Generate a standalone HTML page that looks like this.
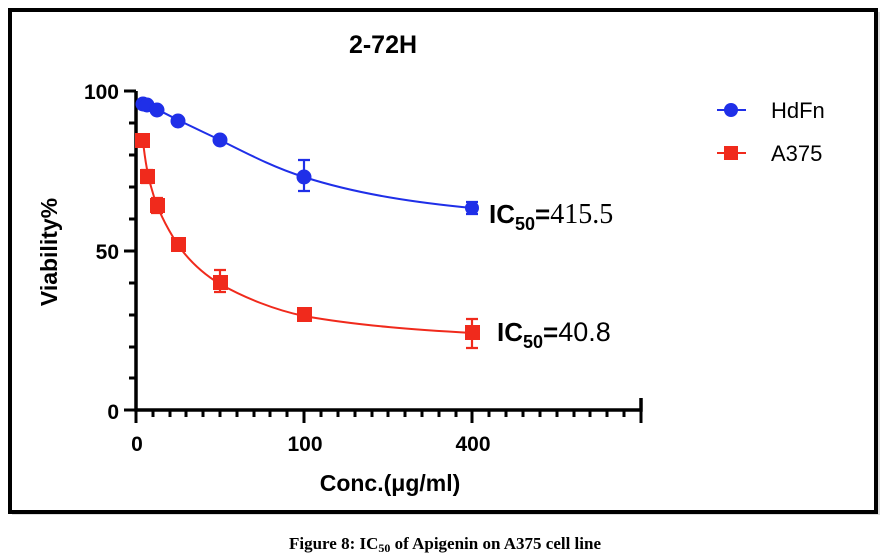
<!DOCTYPE html>
<html><head><meta charset="utf-8"><style>
html,body{margin:0;padding:0;background:#fff;width:889px;height:560px;overflow:hidden}
svg{display:block}
</style></head><body>
<svg width="889" height="560" xmlns="http://www.w3.org/2000/svg" font-family="Liberation Sans, Arial, sans-serif">
<rect x="12" y="12" width="868" height="503" fill="#bbb" opacity="0.5"/>
<rect x="10" y="10" width="866" height="502" fill="#fff" stroke="#000" stroke-width="4"/>
<text x="383" y="53" font-size="25" font-weight="bold" text-anchor="middle">2-72H</text>
<g stroke="#000" stroke-width="3.5" fill="none">
<path d="M136,91 V410 H641 V398"/>
</g>
<g stroke="#000" stroke-width="3">
<path d="M124,91H136 M124,251H136 M124,410H136
M129,123H136 M129,155H136 M129,187H136 M129,219H136 M129,283H136 M129,315H136 M129,347H136 M129,378H136"/>
<path d="M136,410V423 M304,410V423 M472,410V423 M641,410V423"/>
<path d="M153,410v7 M170,410v7 M186,410v7 M203,410v7 M220,410v7 M237,410v7 M254,410v7 M270,410v7 M287,410v7
M321,410v7 M338,410v7 M355,410v7 M372,410v7 M388,410v7 M405,410v7 M422,410v7 M439,410v7 M456,410v7
M489,410v7 M506,410v7 M523,410v7 M540,410v7 M557,410v7 M574,410v7 M590,410v7 M607,410v7 M624,410v7"/>
</g>
<g font-size="21" font-weight="bold" text-anchor="end">
<text x="119" y="99">100</text><text x="119" y="259">50</text><text x="119" y="419">0</text>
</g>
<g font-size="21" font-weight="bold" text-anchor="middle">
<text x="137" y="451">0</text><text x="305" y="451">100</text><text x="473" y="451">400</text>
</g>
<text x="390" y="491" font-size="23" font-weight="bold" text-anchor="middle">Conc.(μg/ml)</text>
<text transform="translate(57,252) rotate(-90)" font-size="23" font-weight="bold" text-anchor="middle">Viability%</text>
<path d="M143,104 C150,105 160,111 178,120 C195,128 205,133 220,140 C250,155 275,168 304,177 C360,195 420,203 472,208" stroke="#1f2fe8" stroke-width="2" fill="none"/>
<g stroke="#1f2fe8" stroke-width="2.2">
<path d="M304,160V191 M298,160H310 M298,191H310 M472,202V214 M466,202H478 M466,214H478"/>
</g>
<g fill="#1f2fe8">
<circle cx="143" cy="104" r="7.5"/><circle cx="147" cy="105" r="7.5"/><circle cx="157" cy="110" r="7.5"/><circle cx="178" cy="121" r="7.5"/><circle cx="220" cy="140" r="7.5"/><circle cx="304" cy="177" r="7.5"/><circle cx="472" cy="208" r="7"/>
</g>
<path d="M143,141 C145,160 148,177 152,190 C156,205 165,225 178,245 C190,262 205,275 220,284 C245,298 275,310 304,316 C360,326 420,330 472,333" stroke="#f02a1c" stroke-width="2" fill="none"/>
<g stroke="#f02a1c" stroke-width="2.2">
<path d="M147,170V183 M141,170H153 M141,183H153 M157,198V213 M151,198H163 M151,213H163 M220,270V292 M214,270H226 M214,292H226 M472,319V348 M466,319H478 M466,348H478"/>
</g>
<g fill="#f02a1c">
<rect x="135" y="133" width="15" height="15"/><rect x="140" y="169" width="15" height="15"/><rect x="150" y="198" width="15" height="15"/><rect x="171" y="237" width="15" height="15"/><rect x="213" y="275" width="15" height="15"/><rect x="297" y="307" width="15" height="15"/><rect x="465" y="325" width="15" height="15"/>
</g>
<text x="489" y="223" font-size="26"><tspan font-weight="bold">IC</tspan><tspan font-weight="bold" font-size="18" dy="7">50</tspan><tspan font-weight="bold" dy="-7">=</tspan><tspan font-family="Liberation Serif, serif" font-size="28">415.5</tspan></text>
<text x="497" y="341" font-size="26"><tspan font-weight="bold">IC</tspan><tspan font-weight="bold" font-size="18" dy="7">50</tspan><tspan font-weight="bold" dy="-7">=</tspan><tspan font-size="27">40.8</tspan></text>
<path d="M717,110H746" stroke="#1f2fe8" stroke-width="2"/><circle cx="731" cy="110" r="7" fill="#1f2fe8"/>
<text x="771" y="118" font-size="22">HdFn</text>
<path d="M717,153H746" stroke="#f02a1c" stroke-width="2"/><rect x="724" y="146" width="14" height="14" fill="#f02a1c"/>
<text x="771" y="161" font-size="22">A375</text>
<text x="445" y="549" font-family="Liberation Serif, serif" font-size="17" font-weight="bold" text-anchor="middle">Figure 8: IC<tspan font-size="12" dy="3">50</tspan><tspan dy="-3"> of Apigenin on A375 cell line</tspan></text>
</svg>
</body></html>
